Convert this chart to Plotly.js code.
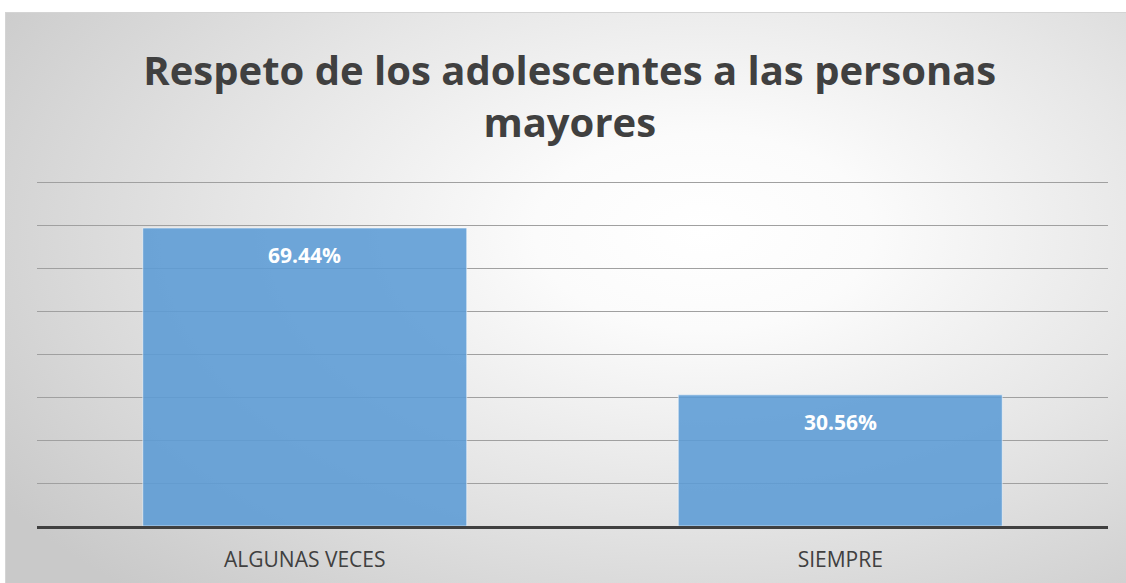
<!DOCTYPE html>
<html>
<head>
<meta charset="utf-8">
<script src="https://cdn.plot.ly/plotly-3.0.1.min.js"></script>
<style>
  html, body { margin: 0; padding: 0; background: #ffffff; }
  #wrap { position: relative; width: 1126px; height: 583px; overflow: hidden; background: #ffffff; }
  #bg { position: absolute; left: 5px; top: 12px; width: 1125px; height: 575px;
        border-top: 1px solid #d4d4d4; border-left: 1px solid #d4d4d4;
        background: radial-gradient(ellipse 75% 85% at 62% 38%, #ffffff 0%, #fbfbfb 20%, #e6e6e6 55%, #c9c9c9 100%); }
  #chart { position: absolute; left: 0; top: 0; width: 1126px; height: 583px; }
</style>
</head>
<body>
<div id="wrap"><div id="bg"></div><div id="chart"></div></div>
<script>
const categories = ["ALGUNAS VECES", "SIEMPRE"];
const values = [69.44, 30.56];
const valueLabels = ["69.44%", "30.56%"];
const chartTitle = "Respeto de los adolescentes a las personas<br>mayores";

const trace = {
  type: "bar",
  x: categories,
  y: values,
  width: 0.605,
  marker: { color: "rgba(91,155,213,0.88)", line: { color: "rgba(255,255,255,0.55)", width: 1 } },
  hoverinfo: "skip"
};

const annotations = categories.map((c, i) => ({
  x: c, y: values[i], xref: "x", yref: "y",
  text: "<b>" + valueLabels[i] + "</b>",
  showarrow: false, yanchor: "middle", yshift: -27,
  font: { family: "Open Sans, sans-serif", size: 21, color: "#ffffff" }
}));

const layout = {
  width: 1126, height: 583,
  paper_bgcolor: "rgba(0,0,0,0)",
  plot_bgcolor: "rgba(0,0,0,0)",
  margin: { l: 37, r: 18, t: 181, b: 57 },
  title: {
    text: "<b>" + chartTitle + "</b>",
    x: 0.506, xanchor: "center", y: 0.855, yanchor: "top",
    font: { family: "Open Sans, sans-serif", size: 40, color: "#404040" }
  },
  xaxis: {
    showline: true, linecolor: "#404040", linewidth: 3,
    ticks: "", showgrid: false,
    ticklabelstandoff: 13,
    tickfont: { family: "Open Sans, sans-serif", size: 21, color: "#404040" }
  },
  yaxis: {
    range: [0, 80.4], tickvals: [10, 20, 30, 40, 50, 60, 70, 80], showticklabels: false, ticks: "",
    showgrid: true, gridcolor: "#a0a0a0", gridwidth: 1,
    zeroline: false, showline: false, fixedrange: true
  },
  annotations: annotations,
  showlegend: false,
  bargap: 0.395
};

Plotly.newPlot("chart", [trace], layout, { staticPlot: true, displayModeBar: false });
</script>
</body>
</html>
